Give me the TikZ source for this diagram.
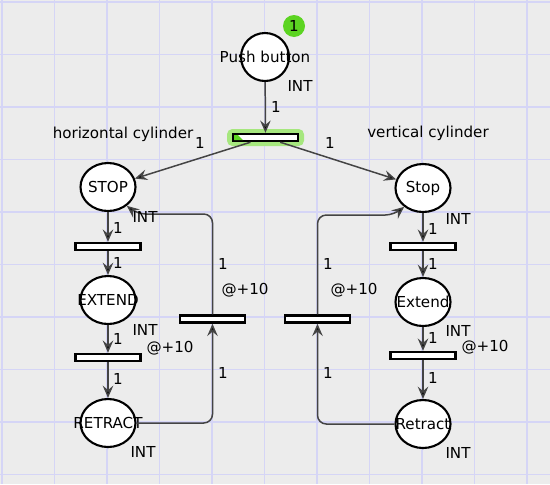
\documentclass[tikz,border=0pt]{standalone}
\usepackage{fontspec}
\setmainfont{DejaVu Sans}
\usetikzlibrary{shapes.geometric,arrows.meta}
\definecolor{canvas}{HTML}{ECECEC}
\definecolor{gridline}{HTML}{D5D5F6}
\definecolor{arcgray}{HTML}{444444}
\definecolor{tokengreen}{HTML}{5CD422}
\definecolor{glowgreen}{HTML}{A6E77E}
\begin{document}
\begin{tikzpicture}[x=0.02cm,y=-0.02cm,
  >={Stealth[length=7pt,width=6pt,inset=2.5pt,fill=black]},
  every node/.style={font=\fontsize{8.6}{10}\selectfont},
  place/.style={ellipse,draw,line width=1.2pt,fill=white,minimum width=1.10cm,minimum height=0.96cm,inner sep=0pt},
  trans/.style={rectangle,draw,line width=1.4pt,fill=white,minimum width=1.30cm,minimum height=0.14cm,inner sep=0pt},
  arc/.style={->,draw=arcgray,line width=0.85pt}]
  \useasboundingbox (0,0) rectangle (550,484);
  \fill[canvas] (0,0) rectangle (550,484);
  \foreach \x in {2,54.5,...,530}
    \draw[gridline,line width=1pt] (\x,0) -- (\x,484);
  \foreach \y in {2,54.5,...,480}
    \draw[gridline,line width=1pt] (0,\y) -- (550,\y);

  \node[place,minimum width=0.96cm,label=center:Push button] (push) at (265,57) {};
  \node[circle,fill=tokengreen,minimum size=0.44cm,inner sep=0pt] (token) at (294,26) {1};
  \fill[glowgreen,rounded corners=3pt] (227,129) rectangle (304,146);
  \node[trans] (tTop) at (265.5,137.5) {};
  \fill[tokengreen] (234,135) -- (238,135) -- (243,140) -- (234,140) -- cycle;

  \node[place,label=center:STOP] (stopH) at (108,187) {};
  \node[trans] (t1) at (108,246.5) {};
  \node[place,label=center:EXTEND] (extH) at (108,300) {};
  \node[trans] (t2) at (108,357.5) {};
  \node[place,label=center:RETRACT] (retH) at (108,423) {};
  \node[trans] (tH) at (212.5,319) {};
  \coordinate (bendH) at (137,214);

  \node[place,label=center:Stop] (stopV) at (423,188) {};
  \node[trans] (t3) at (423,246.5) {};
  \node[place,label=center:Extend] (extV) at (423,302) {};
  \node[trans] (t4) at (423,355.5) {};
  \node[place,label=center:Retract] (retV) at (423,424) {};
  \node[trans] (tV) at (317.5,319) {};
  \coordinate (bendV) at (394,215);

  \draw[arc] (push) -- (tTop);
  \draw[arc] (tTop) -- (stopH);
  \draw[arc] (tTop) -- (stopV);
  \draw[arc] (stopH) -- (t1);
  \draw[arc] (t1) -- (extH);
  \draw[arc] (extH) -- (t2);
  \draw[arc] (t2) -- (retH);
  \draw[arc,rounded corners=5pt] (retH) -| (tH);
  \draw[arc,rounded corners=5pt] (tH) |- (bendH) -- (stopH.-45);
  \draw[arc] (stopV) -- (t3);
  \draw[arc] (t3) -- (extV);
  \draw[arc] (extV) -- (t4);
  \draw[arc] (t4) -- (retV);
  \draw[arc,rounded corners=5pt] (retV) -| (tV);
  \draw[arc,rounded corners=5pt] (tV) |- (bendV) -- (stopV.-135);

  \node (horiz) at (123,134) {horizontal cylinder};
  \node (vert) at (428,133) {vertical cylinder};
  \foreach \n/\x/\y in {push/300/86,stopH/145/217,extH/145/330,retH/143/452,
                        stopV/458/219,extV/458/331,retV/458/453}
    \node (int\n) at (\x,\y) {INT};
  \foreach \n/\x/\y in {t2/170/348,tH/245/290,tV/354/290,t4/485/347}
    \node (delay\n) at (\x,\y) {@+10};
  \foreach \n/\x/\y in {0/276/107,1/200/143,2/330/143,3/118/228,4/118/263,5/118/339,
                        6/118/379,7/223/264,8/223/373,9/433/229,10/433/264,11/433/338,
                        12/433/378,13/328/264,14/328/373}
    \node (one\n) at (\x,\y) {1};
\end{tikzpicture}
\end{document}
